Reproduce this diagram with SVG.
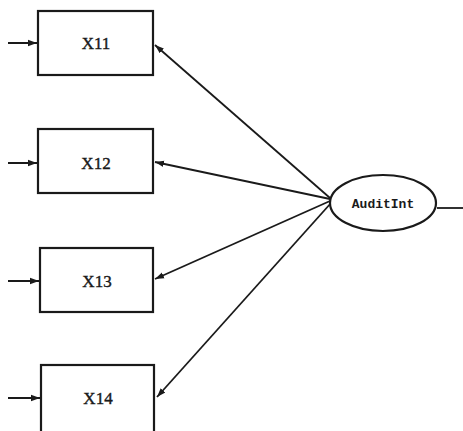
<svg xmlns="http://www.w3.org/2000/svg" width="463" height="431" viewBox="0 0 463 431">
  <style>
    .box { fill: #fff; stroke: #1a1a1a; stroke-width: 2.2; }
    .lbl { font-family: "Liberation Serif", serif; font-size: 17px; fill: #1a1a1a; stroke: #1a1a1a; stroke-width: 0.4; text-anchor: middle; }
    .conn { stroke: #1a1a1a; stroke-width: 1.8; fill: none; marker-end: url(#ah); }
    .err { stroke: #1a1a1a; stroke-width: 2; fill: none; marker-end: url(#ah); }
  </style>
  <defs>
    <marker id="ah" viewBox="0 0 10 10" refX="10" refY="5" markerWidth="9" markerHeight="9" markerUnits="userSpaceOnUse" orient="auto">
      <path d="M0,1.5 L10,5 L0,8.5 z" fill="#1a1a1a"/>
    </marker>
  </defs>
  <rect width="463" height="431" fill="#fff"/>

  <g id="connectors">
    <line class="err" x1="8" y1="43" x2="37" y2="43"/>
    <line class="err" x1="8" y1="163" x2="37" y2="163"/>
    <line class="err" x1="8" y1="281" x2="39" y2="281"/>
    <line class="err" x1="8" y1="398" x2="40" y2="398"/>
    <line class="conn" x1="330" y1="198" x2="155" y2="45"/>
    <line class="conn" x1="330" y1="199" x2="155" y2="162"/>
    <line class="conn" x1="330" y1="201" x2="155" y2="279"/>
    <line class="conn" x1="331" y1="203" x2="157" y2="397"/>
    <line x1="437" y1="208" x2="463" y2="208" stroke="#1a1a1a" stroke-width="1.8"/>
  </g>

  <g id="x11">
    <rect class="box" x="38" y="11" width="115" height="64"/>
    <text class="lbl" x="96" y="49">X11</text>
  </g>
  <g id="x12">
    <rect class="box" x="38" y="129" width="115" height="64"/>
    <text class="lbl" x="96" y="169">X12</text>
  </g>
  <g id="x13">
    <rect class="box" x="40" y="248" width="113" height="64"/>
    <text class="lbl" x="97" y="287">X13</text>
  </g>
  <g id="x14">
    <rect class="box" x="41" y="365" width="113" height="70"/>
    <text class="lbl" x="98" y="404">X14</text>
  </g>
  <g id="auditint">
    <ellipse cx="383" cy="203" rx="53" ry="28" fill="#fff" stroke="#1a1a1a" stroke-width="2.2"/>
    <text x="383" y="208" font-family="Liberation Mono, monospace" font-size="13" fill="#1a1a1a" text-anchor="middle" font-weight="bold">AuditInt</text>
  </g>
</svg>
